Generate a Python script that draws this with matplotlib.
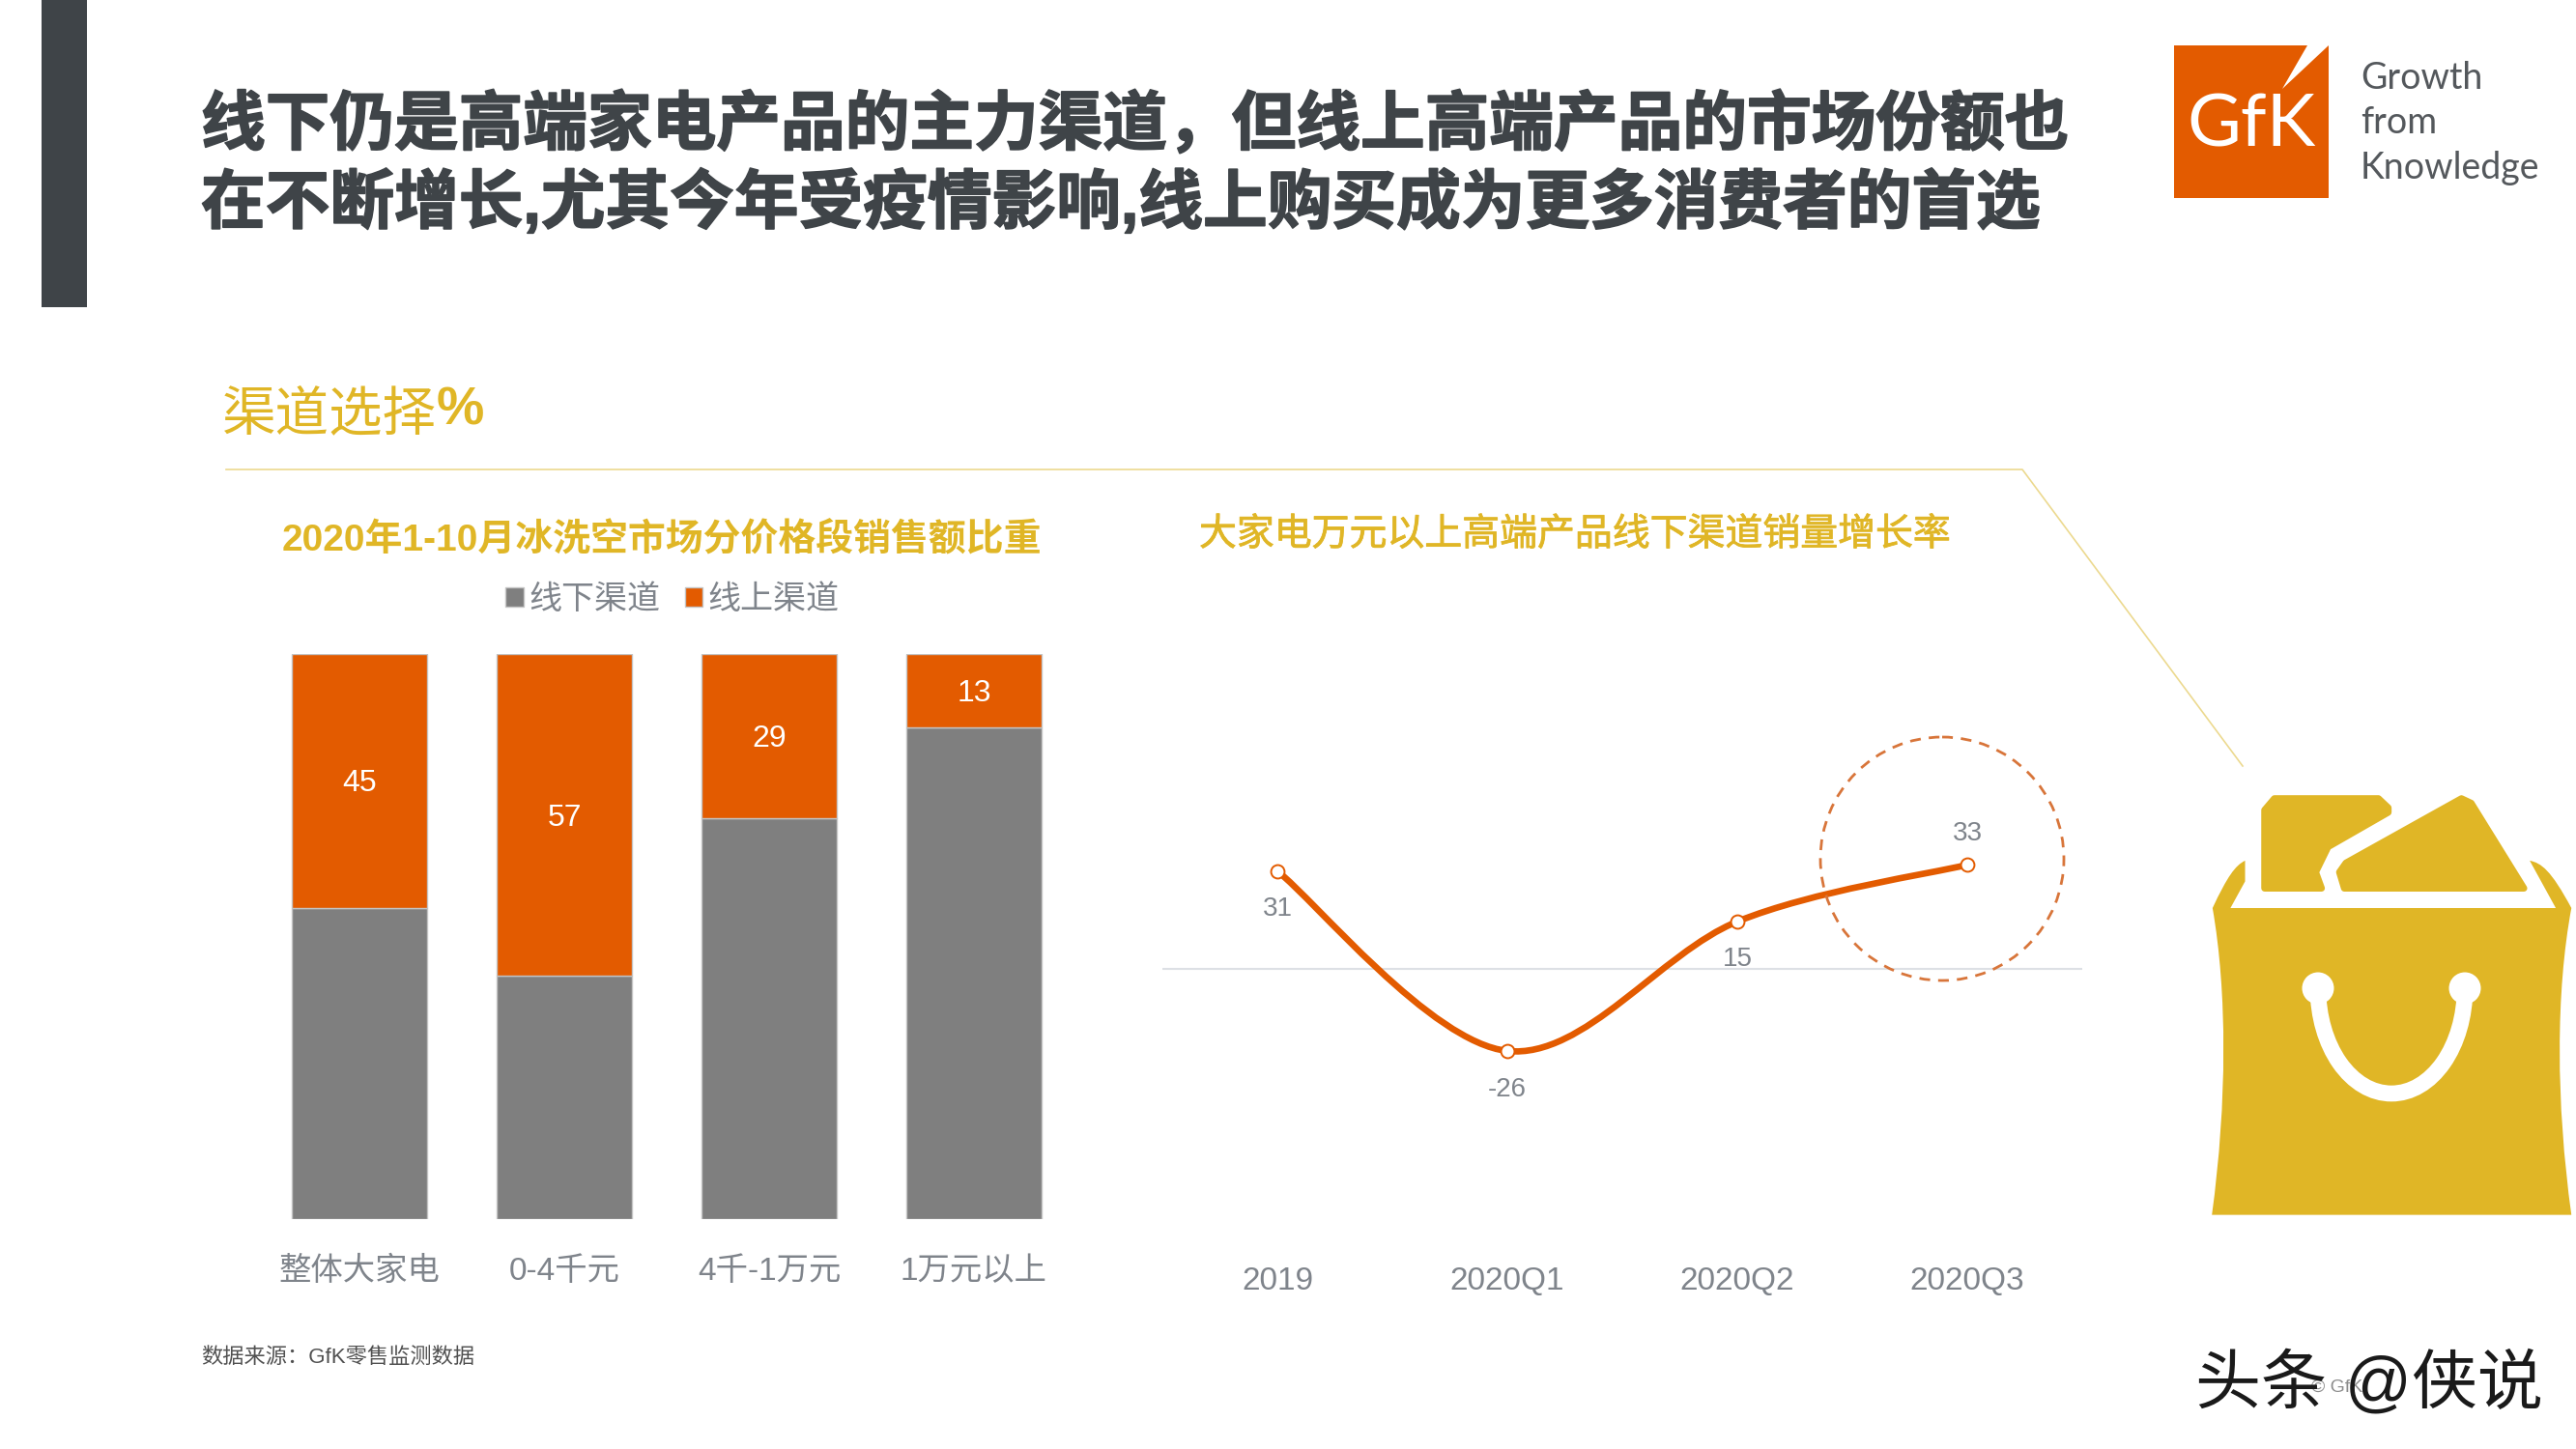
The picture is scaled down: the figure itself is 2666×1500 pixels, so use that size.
import numpy as np
import matplotlib
matplotlib.use("Agg")
import matplotlib.pyplot as plt
import matplotlib.patheffects as pe
from matplotlib.path import Path
from matplotlib.patches import PathPatch, Polygon, Circle, Rectangle, Arc

plt.rcParams['font.family'] = ['Liberation Sans', 'Noto Sans CJK SC', 'DejaVu Sans']

# data
bar_cats = ['整体大家电', '0-4千元', '4千-1万元', '1万元以上']
offline = [55, 43, 71, 87]
online = [45, 57, 29, 13]
line_cats = ['2019', '2020Q1', '2020Q2', '2020Q3']
growth = [31, -26, 15, 33]

W, H = 2666, 1500
ORANGE = '#e35b00'
GRAY = '#7f7f7f'
GOLD = '#e0b626'
DARK = '#3f4448'
LABEL = '#7f848b'

fig = plt.figure(figsize=(W / 100, H / 100), dpi=100, facecolor='white')


def px_axes(left, top, right, bottom):
    return fig.add_axes([left / W, 1 - bottom / H, (right - left) / W, (bottom - top) / H])


# overlay in pixel coordinates, for the slide decoration
deco = fig.add_axes([0, 0, 1, 1], zorder=0)
deco.set_xlim(0, W)
deco.set_ylim(H, 0)
deco.axis('off')

heavy = [pe.withStroke(linewidth=1.2, foreground=DARK)]
deco.add_patch(Rectangle((43, 0), 47, 318, color=DARK, lw=0))
deco.text(208, 130, '线下仍是高端家电产品的主力渠道，但线上高端产品的市场份额也', fontsize=48,
          fontweight='bold', color=DARK, va='center', path_effects=heavy)
deco.text(208, 211, '在不断增长,尤其今年受疫情影响,线上购买成为更多消费者的首选', fontsize=48,
          fontweight='bold', color=DARK, va='center', path_effects=heavy)
deco.text(230, 431, '渠道选择', fontsize=40, color=GOLD, va='center')
deco.text(452, 426, '%', fontsize=40, fontweight='bold', color=GOLD, va='center')
deco.plot([234, 2093, 2321], [486, 486, 793], color='#ecd98f', lw=1.2)
deco.text(292, 560, '2020年1-10月冰洗空市场分价格段销售额比重', fontsize=28, fontweight='bold',
          color=GOLD, va='center')
deco.text(1241, 554, '大家电万元以上高端产品线下渠道销量增长率', fontsize=28, color=GOLD, va='center',
          path_effects=[pe.withStroke(linewidth=0.6, foreground=GOLD)])
deco.text(208, 1405, '数据来源：GfK零售监测数据', fontsize=16, color='#505050', va='center')

# logo
deco.add_patch(Rectangle((2250, 47), 160, 158, color=ORANGE, lw=0))
deco.add_patch(Polygon([[2388, 47], [2410, 47], [2362, 92]], color='white', lw=0))
deco.text(2330, 130, 'GfK', fontsize=55, color='white', family='Lato', ha='center', va='center')
for txt, y in zip(['Growth', 'from', 'Knowledge'], [81, 127, 174]):
    deco.text(2443, y, txt, fontsize=27, color='#54585c', family='Lato', va='center')


# shopping bag
def bag_xy(pts):
    return [(2204 + u / 2.97, 760 + v / 2.1) for u, v in pts]


bag_body = Path(bag_xy([(253, 1045), (300, 800), (300, 560), (255, 378),
                        (300, 310), (325, 285), (355, 275), (355, 320), (310, 378),
                        (1310, 378), (1230, 275), (1265, 280), (1295, 295), (1358, 378),
                        (1310, 560), (1310, 800), (1358, 1045), (253, 1045)]),
                [Path.MOVETO, Path.CURVE4, Path.CURVE4, Path.CURVE4,
                 Path.CURVE4, Path.CURVE4, Path.CURVE4, Path.LINETO, Path.LINETO,
                 Path.LINETO, Path.LINETO, Path.CURVE4, Path.CURVE4, Path.LINETO,
                 Path.CURVE4, Path.CURVE4, Path.CURVE4, Path.CLOSEPOLY])
deco.add_patch(PathPatch(bag_body, fc=GOLD, lw=0))
deco.add_patch(Polygon(bag_xy([(415, 335), (415, 165), (445, 140), (765, 140), (795, 160), (795, 170),
                               (610, 245), (572, 300), (590, 335)]), fc=GOLD, ec=GOLD, lw=5, joinstyle='round'))
deco.add_patch(Polygon(bag_xy([(660, 335), (645, 300), (665, 280), (1020, 140), (1050, 150),
                               (1212, 335)]), fc=GOLD, ec=GOLD, lw=5, joinstyle='round'))
deco.add_patch(Arc((2475, 1023), 152, 218, theta1=0, theta2=180, color='white', lw=12, zorder=3))
for hx in [2399, 2551]:
    deco.add_patch(Circle((hx, 1023), 16.5, color='white', lw=0, zorder=4))

# left chart: stacked bars
ax = px_axes(266, 677, 1114, 1262)
x = np.arange(len(bar_cats))
b1 = ax.bar(x, offline, width=0.665, color=GRAY, edgecolor='#c4c4c4', linewidth=1, label='线下渠道')
b2 = ax.bar(x, online, width=0.665, bottom=offline, color=ORANGE, edgecolor='#c4c4c4', linewidth=1,
            label='线上渠道')
for xi, base, val in zip(x, offline, online):
    ax.annotate(str(val), (xi, base + val / 2), xytext=(0, -2), textcoords='offset points', color='white',
                fontsize=23, ha='center', va='center')
ax.set_xlim(-0.5, 3.5)
ax.set_ylim(0, 100)
ax.set_xticks(x)
ax.set_xticklabels(bar_cats, fontsize=24, color=LABEL)
ax.tick_params(axis='x', length=0, pad=28)
ax.set_yticks([])
for s in ax.spines.values():
    s.set_visible(False)
ax.patch.set_alpha(0)
ax.legend(handles=[b1, b2], ncol=2, loc='center', bbox_to_anchor=(0.507, 1.095), frameon=False, fontsize=24.5,
          labelcolor=LABEL, handlelength=0.55, handleheight=0.55, handletextpad=0.15, columnspacing=0.75)

# right chart: smoothed line
ax2 = px_axes(1203, 807, 2155, 1297)
xl = np.arange(len(line_cats))
ax2.axhline(0, color='#dde0e5', lw=1.5, zorder=1)

yl = np.array(growth, dtype=float)
verts = [(xl[0], yl[0])]
codes = [Path.MOVETO]
for i in range(len(xl) - 1):
    x0, y0 = (xl[i - 1], yl[i - 1]) if i > 0 else (xl[i], yl[i])
    x3, y3 = (xl[i + 2], yl[i + 2]) if i + 2 < len(xl) else (xl[i + 1], yl[i + 1])
    verts += [(xl[i] + (xl[i + 1] - x0) / 6, yl[i] + (yl[i + 1] - y0) / 6),
              (xl[i + 1] - (x3 - xl[i]) / 6, yl[i + 1] - (y3 - yl[i]) / 6),
              (xl[i + 1], yl[i + 1])]
    codes += [Path.CURVE4] * 3
ax2.add_patch(PathPatch(Path(verts, codes), fc='none', ec=ORANGE, lw=4.8, zorder=2, capstyle='round'))
ax2.plot(xl, growth, ls='none', marker='o', ms=10, mfc='white', mec=ORANGE, mew=1.4, zorder=3)

offsets = [-28, -29, -28, 23]
for xi, v, off in zip(xl, growth, offsets):
    ax2.annotate(str(v), (xi, v), xytext=(0, off), textcoords='offset points', fontsize=20, color=LABEL,
                 ha='center', va='center')
ax2.set_xlim(-0.5, 3.5)
ax2.set_ylim(-90, 60)
ax2.set_xticks(xl)
ax2.set_xticklabels(line_cats, fontsize=24, color=LABEL)
ax2.tick_params(axis='x', length=0, pad=10)
ax2.set_yticks([])
for s in ax2.spines.values():
    s.set_visible(False)
ax2.patch.set_alpha(0)

# dashed circle around the last point, on top of everything
top = fig.add_axes([0, 0, 1, 1], zorder=5)
top.set_xlim(0, W)
top.set_ylim(H, 0)
top.axis('off')
top.patch.set_alpha(0)
top.add_patch(Circle((2010, 889), 126, fc='none', ec='#d8753a', lw=2, ls=(0, (4, 3))))
top.text(2392, 1436, '© GfK', fontsize=14, color='#8c8c8c', ha='left', va='center')
top.text(2452, 1433, '头条 @侠说', fontsize=49, color='#1a1a1a', ha='center', va='center')

fig.savefig('out.png', dpi=100)
